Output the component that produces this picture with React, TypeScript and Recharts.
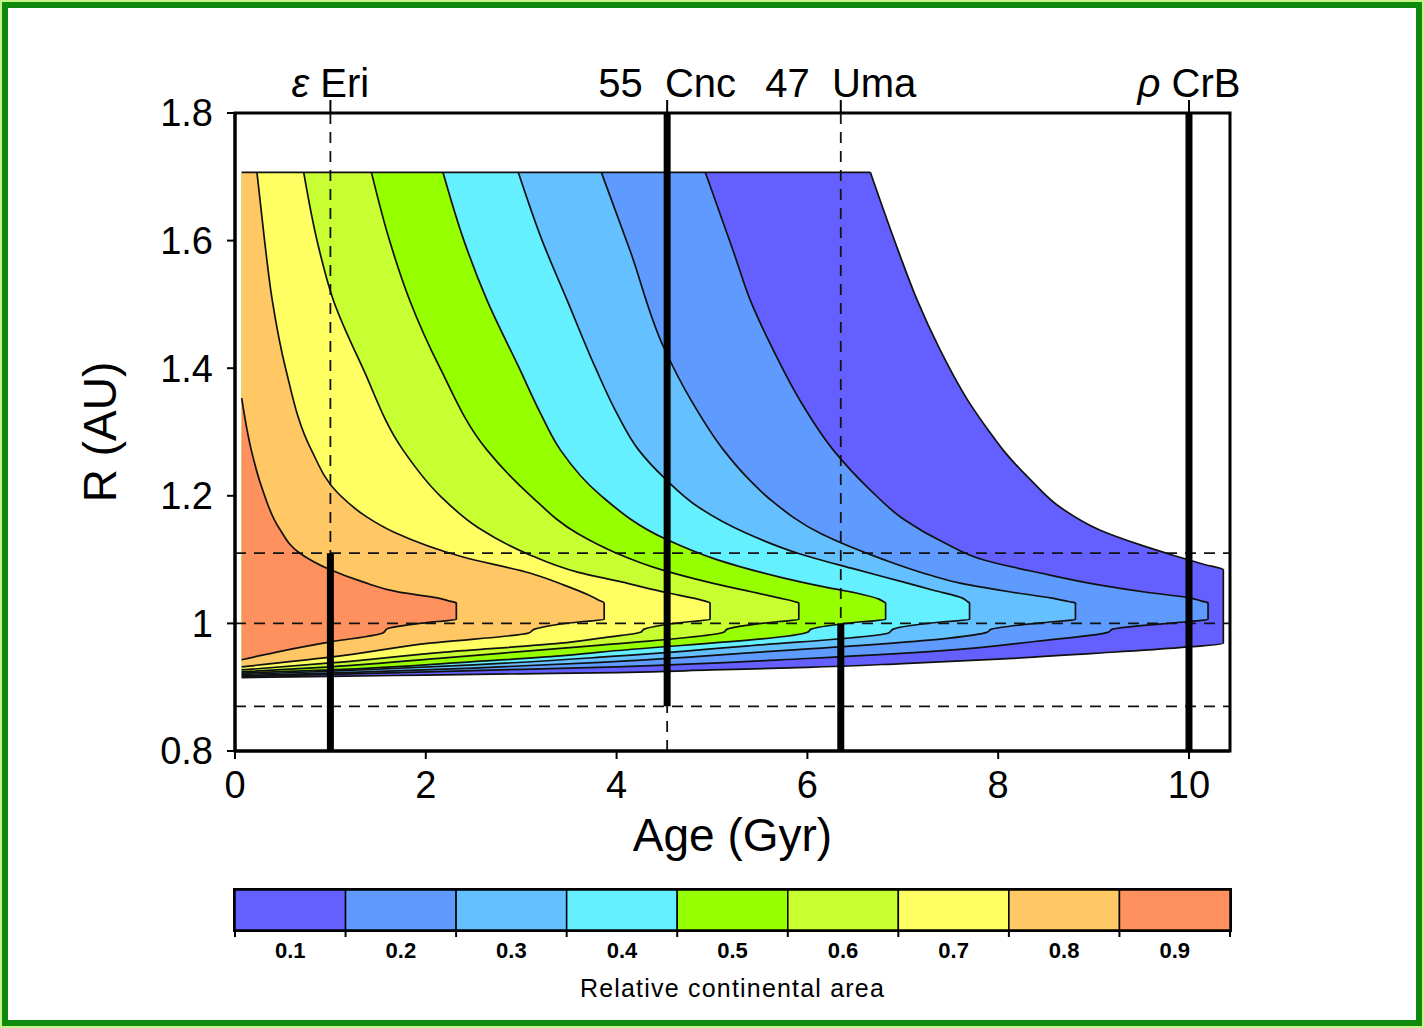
import React from 'react';
import {
  ComposedChart,
  Area,
  XAxis,
  YAxis,
  ReferenceLine,
  ReferenceArea,
  BarChart,
  Bar,
  Label,
} from 'recharts';

const FONT = '"Liberation Sans", Arial, sans-serif';

// left edge of the model grid (Gyr) and top of the R grid (AU)
const GRID_AGE0 = 0.07;
const GRID_R_TOP = 1.707;

// contour lines, [R (AU), age (Gyr)], bottom to top
const contour09 = [
  [0.943, 0.07], [0.957, 0.5], [0.971, 1.0], [0.985, 1.55], [0.992, 1.6], [1.003, 2.12],
  [1.006, 2.32], [1.032, 2.32], [1.035, 2.25], [1.04, 2.12], [1.049, 1.72], [1.065, 1.34],
  [1.084, 1.0], [1.11, 0.68], [1.15, 0.46], [1.209, 0.29], [1.272, 0.17], [1.353, 0.07],
];
const contour08 = [
  [0.932, 0.07], [0.947, 1.0], [0.969, 2.04], [0.985, 3.08], [0.991, 3.14], [1.003, 3.65],
  [1.006, 3.87], [1.032, 3.87], [1.036, 3.82], [1.045, 3.7], [1.06, 3.45], [1.079, 3.09],
  [1.104, 2.39], [1.142, 1.68], [1.167, 1.38], [1.204, 1.08], [1.272, 0.8], [1.4, 0.53],
  [1.507, 0.39], [1.6, 0.31], [1.707, 0.23],
];
const contour07 = [
  [0.927, 0.07], [0.938, 1.0], [0.955, 2.2], [0.969, 3.41], [0.977, 3.83], [0.986, 4.25],
  [0.991, 4.29], [1.003, 4.78], [1.006, 4.98], [1.032, 4.98], [1.034, 4.95], [1.038, 4.85],
  [1.048, 4.53], [1.065, 4.05], [1.08, 3.6], [1.11, 3.05], [1.15, 2.55], [1.2, 2.15],
  [1.272, 1.76], [1.4, 1.34], [1.507, 1.03], [1.6, 0.86], [1.707, 0.72],
];
const contour06 = [
  [0.924, 0.07], [0.932, 1.0], [0.946, 2.2], [0.961, 3.41], [0.966, 3.83], [0.986, 5.12],
  [0.991, 5.16], [1.003, 5.7], [1.006, 5.91], [1.032, 5.91], [1.034, 5.87], [1.04, 5.7],
  [1.05, 5.4], [1.065, 4.95], [1.085, 4.45], [1.11, 4.0], [1.14, 3.6], [1.2, 3.1],
  [1.272, 2.64], [1.4, 2.15], [1.507, 1.83], [1.6, 1.62], [1.707, 1.43],
];
const contour05 = [
  [0.922, 0.07], [0.927, 1.0], [0.94, 2.5], [0.949, 3.41], [0.955, 3.83], [0.986, 6.0],
  [0.991, 6.04], [1.003, 6.6], [1.006, 6.82], [1.032, 6.82], [1.033, 6.81], [1.038, 6.75],
  [1.048, 6.5], [1.058, 6.15], [1.073, 5.7], [1.1, 5.05], [1.131, 4.53], [1.201, 3.83],
  [1.272, 3.41], [1.33, 3.2], [1.4, 2.98], [1.507, 2.64], [1.6, 2.4], [1.707, 2.18],
];
const contour04 = [
  [0.92, 0.07], [0.925, 1.0], [0.935, 2.5], [0.947, 3.83], [0.965, 5.4], [0.985, 6.85],
  [0.991, 6.9], [1.003, 7.46], [1.006, 7.7], [1.032, 7.7], [1.034, 7.68], [1.04, 7.62],
  [1.052, 7.32], [1.065, 7.0], [1.085, 6.5], [1.11, 5.9], [1.142, 5.35], [1.18, 4.88],
  [1.228, 4.5], [1.272, 4.23], [1.33, 4.0], [1.4, 3.78], [1.507, 3.48], [1.6, 3.22],
  [1.707, 2.97],
];
const contour03 = [
  [0.918, 0.07], [0.922, 1.0], [0.93, 2.5], [0.939, 3.83], [0.955, 5.5], [0.977, 7.49],
  [0.986, 7.88], [0.991, 7.93], [1.003, 8.6], [1.006, 8.81], [1.032, 8.81], [1.034, 8.75],
  [1.04, 8.55], [1.05, 8.1], [1.063, 7.6], [1.075, 7.3], [1.1, 6.8], [1.14, 6.15],
  [1.193, 5.62], [1.23, 5.36], [1.272, 5.12], [1.35, 4.78], [1.434, 4.49], [1.585, 4.14],
  [1.707, 3.84],
];
const contour02 = [
  [0.917, 0.07], [0.92, 1.0], [0.926, 2.5], [0.932, 4.0], [0.945, 6.0], [0.958, 7.49],
  [0.972, 8.4], [0.986, 9.15], [0.991, 9.2], [1.003, 10.0], [1.006, 10.2], [1.032, 10.2],
  [1.035, 10.13], [1.04, 10.01], [1.048, 9.59], [1.06, 9.07], [1.079, 8.44], [1.099, 7.86],
  [1.126, 7.44], [1.162, 7.02], [1.209, 6.66], [1.272, 6.27], [1.35, 5.92], [1.429, 5.64],
  [1.507, 5.4], [1.585, 5.22], [1.707, 4.93],
];
// outer edge of the computed region (0.1 level)
const contour01 = [
  [0.915, 0.07], [0.917, 1.0], [0.919, 2.0], [0.921, 3.0], [0.923, 4.0], [0.927, 5.0],
  [0.931, 6.0], [0.937, 7.0], [0.944, 8.0], [0.953, 9.0], [0.962, 9.9], [0.969, 10.36],
  [1.084, 10.36], [1.092, 10.17], [1.106, 9.85], [1.123, 9.49], [1.146, 9.07], [1.182, 8.65],
  [1.225, 8.34], [1.272, 8.05], [1.298, 7.92], [1.35, 7.68], [1.429, 7.39], [1.507, 7.15],
  [1.585, 6.95], [1.707, 6.66],
];

const levelLabels = ['0.1', '0.2', '0.3', '0.4', '0.5', '0.6', '0.7', '0.8', '0.9'];
const levelColors = [
  '#645fff', '#5f9bff', '#64c0ff', '#64f0ff', '#96ff00',
  '#c8ff32', '#ffff64', '#ffc864', '#ff915f',
];
const contours = [contour01, contour02, contour03, contour04, contour05, contour06, contour07, contour08, contour09];

// stars: names along the top, ages, and the thick age segment
const starNames = ['ε Eri', '55 Cnc', '47 Uma', 'ρ CrB'];
const starAges = [1.0, 4.53, 6.35, 10.0];
const thickFrom = [0.8, 0.87, 0.8, 0.8];
const thickTo = [1.11, 1.8, 1.0, 1.8];
const dashedAges = [1.0, 4.53, 6.35];

// orbital radii shown on the right
const orbitNames = ['55 Cnc', '47 Uma', 'ε Eri'];
const orbitRadii = [0.87, 1.0, 1.11];

const xTicks = [0, 2, 4, 6, 8, 10];
const xMinorTicks = [1, 3, 5, 7, 9];
const yTicks = [0.8, 1, 1.2, 1.4, 1.6, 1.8];

const toPoints = (c: number[][]) => c.map(([r, age]) => ({ r, age }));

const StarText = ({ name, ...rest }: any) => {
  const greek = /^[ερ]/.test(name);
  return (
    <text {...rest} fontFamily={FONT} fill="#000">
      {greek ? (
        <>
          <tspan fontStyle="italic">{name[0]}</tspan>
          <tspan>{name.slice(1)}</tspan>
        </>
      ) : (
        name.replace(' ', '  ')
      )}
    </text>
  );
};

const TopTick = ({ x, y, payload }: any) => {
  const name = starNames[starAges.indexOf(payload.value)];
  return <StarText name={name} x={x} y={y} textAnchor="middle" fontSize={40} style={{ whiteSpace: 'pre' }} />;
};

const RightTick = ({ x, y, payload }: any) => {
  const name = orbitNames[orbitRadii.indexOf(payload.value)];
  return (
    <StarText name={name} x={x} y={y} dy={14} textAnchor="start" fontSize={40} style={{ whiteSpace: 'pre' }} />
  );
};

function ContourChart() {
  return (
    <ComposedChart
      layout="vertical"
      width={1424}
      height={870}
      margin={{ top: 53, right: 34, bottom: 19, left: 155 }}
    >
      <XAxis
        xAxisId="minor"
        type="number"
        domain={[0, 10.43]}
        allowDataOverflow
        ticks={xMinorTicks}
        height={0}
        mirror
        tickSize={7}
        tickFormatter={() => ''}
        axisLine={false}
        tickLine={{ stroke: '#000', strokeWidth: 2 }}
      />
      <XAxis
        type="number"
        dataKey="age"
        domain={[0, 10.43]}
        allowDataOverflow
        ticks={xTicks}
        height={100}
        tickSize={8}
        tickMargin={12}
        axisLine={{ stroke: '#000', strokeWidth: 3 }}
        tickLine={{ stroke: '#000', strokeWidth: 2 }}
        tick={{ fill: '#000', fontSize: 38, fontFamily: FONT }}
      >
        <Label
          value="Age (Gyr)"
          position="insideBottom"
          offset={0}
          style={{ fontSize: 46, fontFamily: FONT, fill: '#000' }}
        />
      </XAxis>
      <XAxis
        xAxisId="top"
        orientation="top"
        type="number"
        domain={[0, 10.43]}
        allowDataOverflow
        ticks={starAges}
        height={60}
        tickSize={13}
        tickMargin={3}
        axisLine={false}
        tickLine={{ stroke: '#000', strokeWidth: 2 }}
        tick={<TopTick />}
      />
      <YAxis
        type="number"
        dataKey="r"
        domain={[0.8, 1.8]}
        allowDataOverflow
        reversed
        ticks={yTicks}
        width={80}
        tickSize={8}
        tickMargin={14}
        tickFormatter={(v: number) => (v === 1 ? '1' : v.toFixed(1))}
        axisLine={{ stroke: '#000', strokeWidth: 3 }}
        tickLine={{ stroke: '#000', strokeWidth: 2 }}
        tick={{ fill: '#000', fontSize: 38, fontFamily: FONT }}
      >
        <Label
          content={() => (
            <text
              x={116}
              y={432}
              transform="rotate(-90 116 432)"
              textAnchor="middle"
              fontSize={46}
              fontFamily={FONT}
              fill="#000"
            >
              R (AU)
            </text>
          )}
        />
      </YAxis>
      <YAxis
        yAxisId="right"
        orientation="right"
        type="number"
        domain={[0.8, 1.8]}
        allowDataOverflow
        reversed
        ticks={orbitRadii}
        width={160}
        tickSize={12}
        tickMargin={3}
        axisLine={false}
        tickLine={{ stroke: '#000', strokeWidth: 2 }}
        tick={<RightTick />}
      />

      {contours.map((c, i) => (
        <Area
          key={levelLabels[i]}
          data={toPoints(c)}
          dataKey="age"
          type="monotone"
          baseValue={GRID_AGE0}
          fill={levelColors[i]}
          fillOpacity={1}
          stroke="#111"
          strokeWidth={1.7}
          dot={false}
          activeDot={false}
          isAnimationActive={false}
        />
      ))}

      <ReferenceLine
        segment={[{ x: GRID_AGE0, y: GRID_R_TOP }, { x: contour01[contour01.length - 1][1], y: GRID_R_TOP }]}
        stroke="#111"
        strokeWidth={1.7}
      />

      {orbitRadii.map((r) => (
        <ReferenceLine key={`h${r}`} y={r} stroke="#111" strokeWidth={1.8} strokeDasharray="11 8" />
      ))}
      {dashedAges.map((a) => (
        <ReferenceLine key={`v${a}`} x={a} stroke="#111" strokeWidth={1.8} strokeDasharray="11 8" />
      ))}
      {starAges.map((a, i) => (
        <ReferenceLine
          key={`t${a}`}
          segment={[{ x: a, y: thickFrom[i] }, { x: a, y: thickTo[i] }]}
          stroke="#000"
          strokeWidth={7}
        />
      ))}

      <ReferenceArea x1={0} x2={10.43} y1={0.8} y2={1.8} fill="none" stroke="#000" strokeWidth={3} />
    </ComposedChart>
  );
}

const colorbarRow = [
  Object.fromEntries([['name', 'area'], ...levelLabels.map((l) => [l, 1])]),
];

function ColorBar() {
  return (
    <BarChart
      layout="vertical"
      width={1424}
      height={150}
      data={colorbarRow}
      margin={{ top: 20, right: 194, bottom: 12, left: 235 }}
      barCategoryGap={0}
    >
      <XAxis
        type="number"
        domain={[0, 9]}
        allowDataOverflow
        ticks={[0, 1, 2, 3, 4, 5, 6, 7, 8, 9]}
        tickFormatter={() => ''}
        height={8}
        tickSize={7}
        axisLine={false}
        tickLine={{ stroke: '#000', strokeWidth: 2 }}
      />
      <XAxis
        xAxisId="labels"
        type="number"
        domain={[0, 9]}
        allowDataOverflow
        ticks={[0.5, 1.5, 2.5, 3.5, 4.5, 5.5, 6.5, 7.5, 8.5]}
        tickFormatter={(v: number) => levelLabels[Math.floor(v)]}
        interval={0}
        height={70}
        tickSize={0}
        tickMargin={4}
        axisLine={false}
        tickLine={false}
        tick={{ fill: '#000', fontSize: 22, fontFamily: FONT, fontWeight: 'bold' }}
      >
        <Label
          value="Relative continental area"
          position="insideBottom"
          offset={11}
          style={{ fontSize: 25, fontFamily: FONT, fill: '#000', letterSpacing: 1.2 }}
        />
      </XAxis>
      <YAxis type="category" dataKey="name" hide />
      {levelLabels.map((l, i) => (
        <Bar
          key={l}
          dataKey={l}
          stackId="bar"
          fill={levelColors[i]}
          stroke="#000"
          strokeWidth={1.5}
          isAnimationActive={false}
        />
      ))}
      <ReferenceArea x1={0} x2={9} fill="none" stroke="#000" strokeWidth={4} />
    </BarChart>
  );
}

export default function App() {
  return (
    <div
      style={{
        position: 'absolute',
        left: 0,
        top: 0,
        width: 1424,
        height: 1028,
        background: '#c6f58c',
      }}
    >
      <div
        style={{
          position: 'absolute',
          left: 2,
          top: 2,
          width: 1408,
          height: 1012,
          border: '6px solid #0f8a0f',
          background: '#fff',
        }}
      />
      <div style={{ position: 'absolute', left: 0, top: 0 }}>
        <ContourChart />
      </div>
      <div style={{ position: 'absolute', left: 0, top: 870 }}>
        <ColorBar />
      </div>
    </div>
  );
}
